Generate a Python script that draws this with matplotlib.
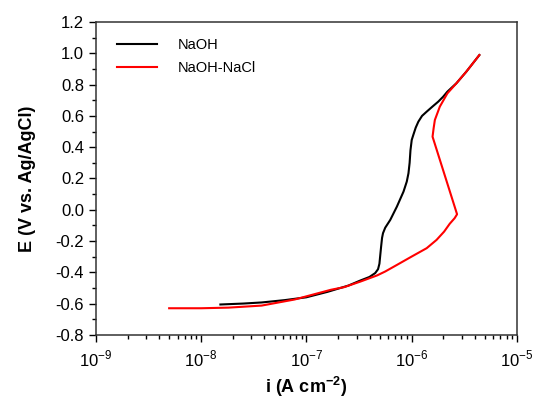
import matplotlib
matplotlib.use("Agg")
import matplotlib.pyplot as plt
import numpy as np
from matplotlib.ticker import LogLocator, MultipleLocator, FormatStrFormatter, NullFormatter

plt.rcParams['font.family'] = ['Liberation Sans', 'DejaVu Sans']
plt.rcParams['mathtext.fontset'] = 'custom'
plt.rcParams['mathtext.rm'] = 'Liberation Sans'
plt.rcParams['mathtext.bf'] = 'Liberation Sans:bold'

# Potentiodynamic polarization curves: log10 of current density (A cm^-2) and potential (V)
naoh_logi = [-7.817, -7.600, -7.425, -7.205, -7.000, -6.798, -6.600, -6.484,
             -6.400, -6.345, -6.318, -6.305, -6.297, -6.289, -6.280, -6.271,
             -6.250, -6.202, -6.139, -6.076, -6.045, -6.029, -6.018, -6.010,
             -5.998, -5.982, -5.960, -5.935, -5.900, -5.856, -5.800, -5.746,
             -5.700, -5.659, -5.574, -5.480, -5.355]
naoh_E = [-0.606, -0.600, -0.593, -0.578, -0.560, -0.525, -0.485, -0.452,
          -0.430, -0.405, -0.380, -0.345, -0.290, -0.236, -0.180, -0.150,
          -0.115, -0.065, 0.020, 0.116, 0.180, 0.233, 0.300, 0.380,
          0.446, 0.480, 0.525, 0.563, 0.600, 0.627, 0.660, 0.691,
          0.722, 0.755, 0.808, 0.882, 0.989]

nacl_logi = [-8.304, -8.000, -7.739, -7.425, -7.111, -6.767, -6.640, -6.484,
             -6.327, -6.250, -6.139, -6.000, -5.856, -5.762, -5.690, -5.637,
             -5.590, -5.567, -5.800, -5.790, -5.778, -5.731, -5.659, -5.574,
             -5.480, -5.355]
nacl_E = [-0.630, -0.630, -0.626, -0.613, -0.574, -0.512, -0.495, -0.459,
          -0.420, -0.395, -0.353, -0.300, -0.246, -0.193, -0.140, -0.090,
          -0.054, -0.029, 0.467, 0.520, 0.574, 0.659, 0.744, 0.808,
          0.882, 0.989]

x_ticks = [1e-9, 1e-8, 1e-7, 1e-6, 1e-5]
x_ticklabels = [r'$10^{-9}$', r'$10^{-8}$', r'$10^{-7}$', r'$10^{-6}$', r'$10^{-5}$']

fig = plt.figure(figsize=(5.36, 4.01), dpi=100)
ax = fig.add_axes([0.179, 0.165, 0.785, 0.780])

ax.plot(10 ** np.array(naoh_logi), naoh_E, color='black', lw=1.5,
        solid_joinstyle='round', label='NaOH')
ax.plot(10 ** np.array(nacl_logi), nacl_E, color='#ff0000', lw=1.5,
        solid_joinstyle='round', label='NaOH-NaCl')

ax.set_xscale('log')
ax.set_xlim(1e-9, 1e-5)
ax.set_ylim(-0.8, 1.2)
ax.set_xticks(x_ticks)
ax.set_xticklabels(x_ticklabels)
ax.xaxis.set_minor_locator(LogLocator(base=10, subs=np.arange(2, 10), numticks=10))
ax.xaxis.set_minor_formatter(NullFormatter())
ax.yaxis.set_major_locator(MultipleLocator(0.2))
ax.yaxis.set_minor_locator(MultipleLocator(0.1))
ax.yaxis.set_major_formatter(FormatStrFormatter('%.1f'))

ax.tick_params(which='major', direction='out', length=5, width=1, labelsize=12,
               top=False, right=False)
ax.tick_params(which='minor', direction='out', length=3, width=1,
               top=False, right=False)
ax.tick_params(axis='x', pad=5)
for s in ax.spines.values():
    s.set_linewidth(1.1)
    s.set_color('#333333')

ax.set_xlabel(r'i (A cm$^{\mathbf{-2}}$)', fontsize=13, fontweight='bold', labelpad=4)
ax.set_ylabel('E (V vs. Ag/AgCl)', fontsize=13, fontweight='bold', labelpad=14)

ax.legend(loc='upper left', bbox_to_anchor=(0.035, 0.968), frameon=False,
          fontsize=10.5, handlelength=2.75, handletextpad=1.45, labelspacing=0.6,
          borderaxespad=0)

fig.savefig('out.png', dpi=100)
